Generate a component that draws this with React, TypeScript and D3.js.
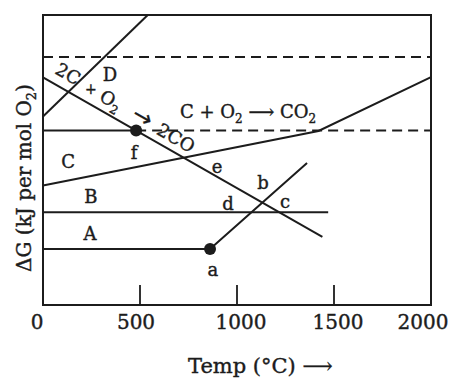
import * as d3 from 'd3';

const WIDTH = 452;
const HEIGHT = 379;

// temperature (°C) on x, ΔG on y (arbitrary units, 0 at the top of the frame)
const xTickValues = [0, 500, 1000, 1500, 2000];
const innerTicks = [500, 1000, 1500];

const lineD = [[0, -350], [540, 0]];
const line2CO = [[0, -215], [1440, -765]];
const lineCO2 = [[0, -588], [1420, -400], [2000, -214]];
const lineB = [[0, -680], [1470, -680]];
const lineA = [[0, -807], [861, -807], [1361, -510]];
const lineF = [[0, -398], [480, -398]];
const dashedF = [[480, -398], [2000, -398]];
const dashedTop = [[0, -145], [2000, -145]];
const dotPoints = [[480, -398], [861, -807]];

const letterLabels = [
  { text: 'D', t: 345, v: -207 },
  { text: 'C', t: 129, v: -507 },
  { text: 'B', t: 247, v: -628 },
  { text: 'A', t: 242, v: -755 },
  { text: 'f', t: 469, v: -476 },
  { text: 'e', t: 897, v: -524 },
  { text: 'b', t: 1134, v: -579 },
  { text: 'd', t: 954, v: -652 },
  { text: 'c', t: 1248, v: -645 },
  { text: 'a', t: 876, v: -879 },
];

export default function App() {
  const margin = { top: 15, left: 43, right: 21, bottom: 74 };
  const x = d3.scaleLinear().domain([0, 2000]).range([margin.left, WIDTH - margin.right]);
  const y = d3.scaleLinear().domain([-1000, 0]).range([HEIGHT - margin.bottom, margin.top]);
  const line = d3.line<number[]>().x((d) => x(d[0])).y((d) => y(d[1]));

  const ink = '#1c1c1c';
  const font = '"DejaVu Serif", "Liberation Serif", serif';
  const angle = (Math.atan2(y(line2CO[1][1]) - y(line2CO[0][1]), x(line2CO[1][0]) - x(line2CO[0][0])) * 180) / Math.PI;

  const rot = (t: number, v: number) => `translate(${x(t)},${y(v)}) rotate(${angle})`;

  return (
    <>
      <style>{`body{margin:0;background:#fff}`}</style>
      <svg width={WIDTH} height={HEIGHT} style={{ display: 'block', background: '#fff' }} fontFamily={font}>
        {/* frame */}
        <rect
          x={x(0)}
          y={y(0)}
          width={x(2000) - x(0)}
          height={y(-1000) - y(0)}
          fill="none"
          stroke={ink}
          strokeWidth={2}
        />
        {innerTicks.map((t) => (
          <line key={t} x1={x(t)} x2={x(t)} y1={y(-1000)} y2={y(-1000) - 20} stroke={ink} strokeWidth={1.8} />
        ))}
        <g fill={ink} stroke={ink} strokeWidth={0.4}>
          {xTickValues.map((t) => (
            <text
              key={t}
              x={t === 0 ? x(t) - 6 : t === 2000 ? x(t) - 8 : x(t) + (t === 500 ? -4 : 4)}
              y={322}
              dy="0.35em"
              textAnchor="middle"
              fontSize={20}
            >
              {t}
            </text>
          ))}
        </g>

        {/* lines */}
        <g fill="none" stroke={ink} strokeWidth={2}>
          <path d={line(dashedTop) || ''} strokeDasharray="10,6" />
          <path d={line(dashedF) || ''} strokeDasharray="10,6" />
          <path d={line(lineD) || ''} />
          <path d={line(line2CO) || ''} />
          <path d={line(lineCO2) || ''} />
          <path d={line(lineB) || ''} />
          <path d={line(lineA) || ''} />
          <path d={line(lineF) || ''} />
        </g>
        {dotPoints.map((p, i) => (
          <circle key={i} cx={x(p[0])} cy={y(p[1])} r={6} fill={ink} />
        ))}

        <g fill={ink} stroke={ink} strokeWidth={0.4}>
          {letterLabels.map((l) => (
            <text key={l.text} x={x(l.t)} y={y(l.v)} dy="0.35em" textAnchor="middle" fontSize={18}>
              {l.text}
            </text>
          ))}

          {/* 2C + O2 -> 2CO along the falling line */}
          <text transform={rot(129, -203)} textAnchor="middle" dy="0.35em" fontSize={18}>2C</text>
          <text x={x(247)} y={y(-255)} textAnchor="middle" dy="0.35em" fontSize={14}>+</text>
          <text transform={rot(351, -293)} textAnchor="middle" dy="0.35em" fontSize={18}>
            O<tspan fontSize={12} dy={5}>2</tspan>
          </text>
          <text
            transform={rot(515, -350)}
            textAnchor="middle"
            dy="0.35em"
            fontSize={24}
            strokeWidth={0.2}
            fontFamily='"DejaVu Sans", sans-serif'
          >
            →
          </text>
          <text transform={rot(686, -424)} textAnchor="middle" dy="0.35em" fontSize={18}>2CO</text>

          {/* C + O2 -> CO2 */}
          <text x={x(1057)} y={y(-334)} dy="0.35em" textAnchor="middle" fontSize={18}>
            C + O<tspan fontSize={12} dy={5}>2</tspan>
            <tspan dy={-5}> ⟶ CO</tspan>
            <tspan fontSize={12} dy={5}>2</tspan>
          </text>

          {/* axis titles */}
          <text x={188} y={366} dy="0.35em" fontSize={21}>
            Temp (°C) ⟶
          </text>
          <text transform={`translate(24,${178}) rotate(-90)`} textAnchor="middle" dy="0.35em" fontSize={20}>
            ΔG (kJ per mol O<tspan fontSize={13} dy={5}>2</tspan>
            <tspan dy={-5}>)</tspan>
          </text>
        </g>
      </svg>
    </>
  );
}
